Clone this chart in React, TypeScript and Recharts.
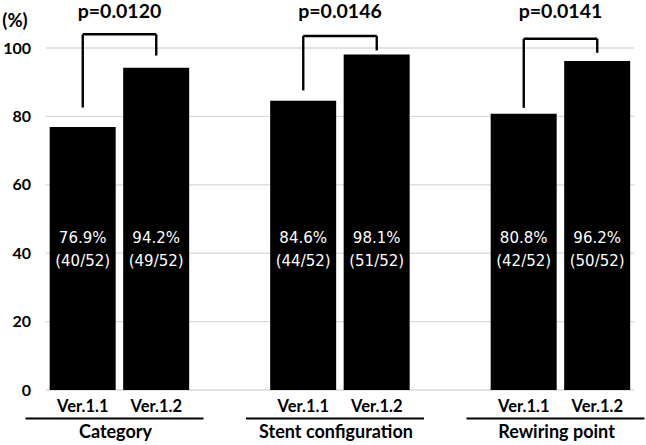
import { BarChart, Bar, CartesianGrid, XAxis, YAxis, ReferenceLine, LabelList, Label } from 'recharts'

const groups = ['Category', 'Stent configuration', 'Rewiring point']
const versions = ['Ver.1.1', 'Ver.1.2']
const rates = [
  [76.9, 94.2],
  [84.6, 98.1],
  [80.8, 96.2],
]
const hits = [
  [40, 49],
  [44, 51],
  [42, 50],
]
const total = 52
const pValues = ['p=0.0120', 'p=0.0146', 'p=0.0141']
// bracket levels in % units: top bar, left leg end, right leg end
const bracketLevels = [
  [104, 82.6, 97.8],
  [103.5, 87.6, 99.3],
  [102.7, 82.5, 98.6],
]
const yTicks = [0, 20, 40, 60, 80, 100]

interface Row {
  key: string
  group: number
  version: number
  rate?: number
  pct?: string
  frac?: string
}

const rows: Row[] = []
groups.forEach((_, g) => {
  versions.forEach((_, v) => {
    rows.push({
      key: `g${g}v${v}`,
      group: g,
      version: v,
      rate: rates[g][v],
      pct: `${rates[g][v].toFixed(1)}%`,
      frac: `(${hits[g][v]}/${total})`,
    })
  })
  if (g < groups.length - 1) rows.push({ key: `gap${g}`, group: g, version: -1 })
})

const boldFont = 'Lato, "Open Sans", sans-serif'
const inBarFont = '"DejaVu Sans", sans-serif'

function XTick(props: any) {
  const { x, y, payload } = props
  const row = rows.find((r) => r.key === payload.value)
  if (!row || row.version < 0) return null
  const half = payload.offset ?? 36.75
  const gx = x + half - 4
  return (
    <g>
      <text x={x} y={y + 22} textAnchor="middle" fontFamily={boldFont} fontWeight={700} fontSize={16.5} fill="#000">
        {versions[row.version]}
      </text>
      {row.version === 0 && (
        <>
          <line x1={gx - 90} x2={gx + 88} y1={y + 28.5} y2={y + 28.5} stroke="#000" strokeWidth={2.2} />
          <text x={gx} y={y + 47.5} textAnchor="middle" fontFamily={boldFont} fontWeight={700} fontSize={18} fill="#000">
            {groups[row.group]}
          </text>
        </>
      )}
    </g>
  )
}

function barText(dy: number) {
  return (props: any) => {
    const { value } = props
    if (value == null) return null
    const vb = props.viewBox || props
    const cx = vb.x + vb.width / 2
    const bottom = vb.y + vb.height
    return (
      <text x={cx} y={bottom - dy} textAnchor="middle" fontFamily={inBarFont} fontSize={15} fill="#fff">
        {value}
      </text>
    )
  }
}

function pLabel(text: string) {
  return (props: any) => {
    const vb = props.viewBox || {}
    const cx = (vb.x ?? 0) + (vb.width ?? 0) / 2
    return (
      <text x={cx} y={17.5} textAnchor="middle" fontFamily={boldFont} fontWeight={700} fontSize={19.5} fill="#000">
        {text}
      </text>
    )
  }
}

export default function App() {
  return (
    <div style={{ position: 'absolute', left: 0, top: 0, background: '#fff' }}>
      <BarChart
        width={646}
        height={445}
        data={rows}
        margin={{ top: 48, right: 12, bottom: 0, left: 0 }}
        barCategoryGap="5%"
      >
        <CartesianGrid vertical={false} stroke="#d9d9d9" strokeWidth={1.3} />
        <XAxis
          dataKey="key"
          height={55}
          axisLine={false}
          tickLine={false}
          tickSize={0}
          tickMargin={0}
          interval={0}
          tick={<XTick />}
        />
        <YAxis
          width={46}
          domain={[0, 100]}
          ticks={yTicks}
          axisLine={false}
          tickLine={false}
          tickSize={0}
          tickMargin={15}
          tick={{ fill: '#000', fontFamily: boldFont, fontWeight: 700, fontSize: 16 }}
        >
          <Label
            content={() => (
              <text x={15} y={27} textAnchor="middle" fontFamily={boldFont} fontWeight={700} fontSize={18.5} fill="#000">
                (%)
              </text>
            )}
          />
        </YAxis>
        <Bar dataKey="rate" fill="#000" isAnimationActive={false}>
          <LabelList dataKey="pct" content={barText(147)} />
          <LabelList dataKey="frac" content={barText(124)} />
        </Bar>
        {groups.map((_, g) => {
          const [top, leftEnd, rightEnd] = bracketLevels[g]
          const a = `g${g}v0`
          const b = `g${g}v1`
          return [
            <ReferenceLine
              key={`t${g}`}
              ifOverflow="visible"
              segment={[
                { x: a, y: top },
                { x: b, y: top },
              ]}
              stroke="#000"
              strokeWidth={2.4}
              label={{ content: pLabel(pValues[g]) } as any}
            />,
            <ReferenceLine
              key={`l${g}`}
              ifOverflow="visible"
              segment={[
                { x: a, y: top },
                { x: a, y: leftEnd },
              ]}
              stroke="#000"
              strokeWidth={2.4}
            />,
            <ReferenceLine
              key={`r${g}`}
              ifOverflow="visible"
              segment={[
                { x: b, y: top },
                { x: b, y: rightEnd },
              ]}
              stroke="#000"
              strokeWidth={2.4}
            />,
          ]
        })}
      </BarChart>
    </div>
  )
}
